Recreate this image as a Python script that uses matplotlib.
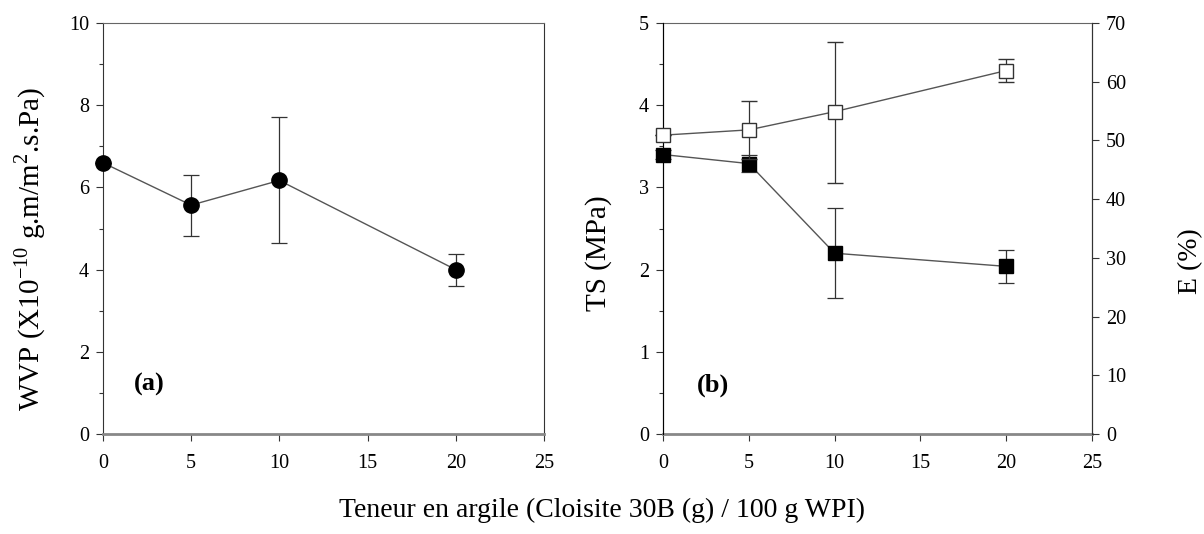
import numpy as np
import matplotlib.pyplot as plt
from matplotlib.ticker import MultipleLocator

plt.rcParams['font.family'] = ['Liberation Serif', 'DejaVu Serif']
plt.rcParams['mathtext.fontset'] = 'custom'
plt.rcParams['mathtext.rm'] = 'Liberation Serif'

# clay content (g / 100 g WPI)
clay = [0, 5, 10, 20]

# panel (a): water vapour permeability
wvp = [6.6, 5.57, 6.17, 4.0]
wvp_err_lo = [0.0, 0.75, 1.52, 0.4]
wvp_err_hi = [0.0, 0.73, 1.55, 0.38]

# panel (b): tensile strength (MPa) and elongation (%)
ts = [3.4, 3.29, 2.2, 2.04]
ts_err = [0.05, 0.1, 0.55, 0.2]
elong = [50.9, 51.8, 54.9, 61.9]
elong_err_lo = [0.0, 5.0, 12.2, 1.9]
elong_err_hi = [0.0, 4.9, 11.9, 1.9]

line_col = '#555555'
spine_col = '#333333'
tick_fs = 14.5
label_fs = 21

fig = plt.figure(figsize=(12.04, 5.34), dpi=100)
ax1 = fig.add_axes([0.0855, 0.187, 0.3663, 0.770])
ax2 = fig.add_axes([0.5507, 0.187, 0.3563, 0.770])


def style_axis(ax):
    for s in ['left', 'right', 'top']:
        ax.spines[s].set_color(spine_col)
        ax.spines[s].set_linewidth(0.8)
    ax.spines['top'].set_color('#666666')
    ax.spines['bottom'].set_color('#888888')
    ax.spines['bottom'].set_linewidth(2.0)
    ax.tick_params(direction='out', length=5, width=0.8, colors=spine_col,
                   labelsize=tick_fs, labelcolor='black', pad=5)
    ax.tick_params(which='minor', direction='out', length=3, width=0.8,
                   colors=spine_col)
    ax.set_xlim(0, 25)
    ax.xaxis.set_major_locator(MultipleLocator(5))
    ax.tick_params(axis='x', pad=9)


# ---- panel (a)
style_axis(ax1)
ax1.errorbar(clay, wvp, yerr=[wvp_err_lo, wvp_err_hi], fmt='o', color='black',
             ecolor=spine_col, elinewidth=0.9, capsize=6, capthick=0.9,
             markersize=11, zorder=3, clip_on=False)
ax1.plot(clay, wvp, '-', color=line_col, lw=1.0, zorder=2)
ax1.set_ylim(0, 10)
ax1.yaxis.set_major_locator(MultipleLocator(2))
ax1.yaxis.set_minor_locator(MultipleLocator(1))
ax1.set_ylabel(r'WVP (X10$^{-10}$ g.m/m$^{2}$.s.Pa)', fontsize=label_fs)
ax1.yaxis.set_label_coords(-0.124, 0.45)
ax1.text(1.75, 1.05, '(a)', fontsize=19, fontweight='bold')

# ---- panel (b)
style_axis(ax2)
ax2.errorbar(clay, ts, yerr=ts_err, fmt='s', color='black', mfc='black',
             ecolor=spine_col, elinewidth=0.9, capsize=6, capthick=0.9,
             markersize=10, zorder=3, clip_on=False)
ax2.plot(clay, ts, '-', color=line_col, lw=1.0, zorder=2)
ax2.set_ylim(0, 5)
ax2.yaxis.set_major_locator(MultipleLocator(1))
ax2.yaxis.set_minor_locator(MultipleLocator(0.5))
ax2.set_ylabel('TS (MPa)', fontsize=label_fs)
ax2.yaxis.set_label_coords(-0.118, 0.44)
ax2.text(2.0, 0.52, '(b)', fontsize=19, fontweight='bold')

ax3 = ax2.twinx()
ax3.errorbar(clay, elong, yerr=[elong_err_lo, elong_err_hi], fmt='s',
             color=spine_col, mfc='white', mec=spine_col, mew=1.0,
             ecolor=spine_col, elinewidth=0.9, capsize=6, capthick=0.9,
             markersize=10, zorder=3, clip_on=False)
ax3.plot(clay, elong, '-', color=line_col, lw=1.0, zorder=2)
ax3.set_ylim(0, 70)
ax3.yaxis.set_major_locator(MultipleLocator(10))
ax3.tick_params(direction='out', length=5, width=0.8, colors=spine_col,
                labelsize=tick_fs, labelcolor='black', pad=5)
ax3.spines['right'].set_color(spine_col)
ax3.spines['right'].set_linewidth(0.8)
ax3.spines['bottom'].set_visible(False)
ax3.spines['top'].set_visible(False)
ax3.set_ylabel('E (%)', fontsize=20)
ax3.yaxis.set_label_coords(1.20, 0.42)

fig.text(0.5, 0.045, 'Teneur en argile (Cloisite 30B (g) / 100 g WPI)',
         ha='center', va='center', fontsize=20)

fig.savefig('out.png', dpi=100)
